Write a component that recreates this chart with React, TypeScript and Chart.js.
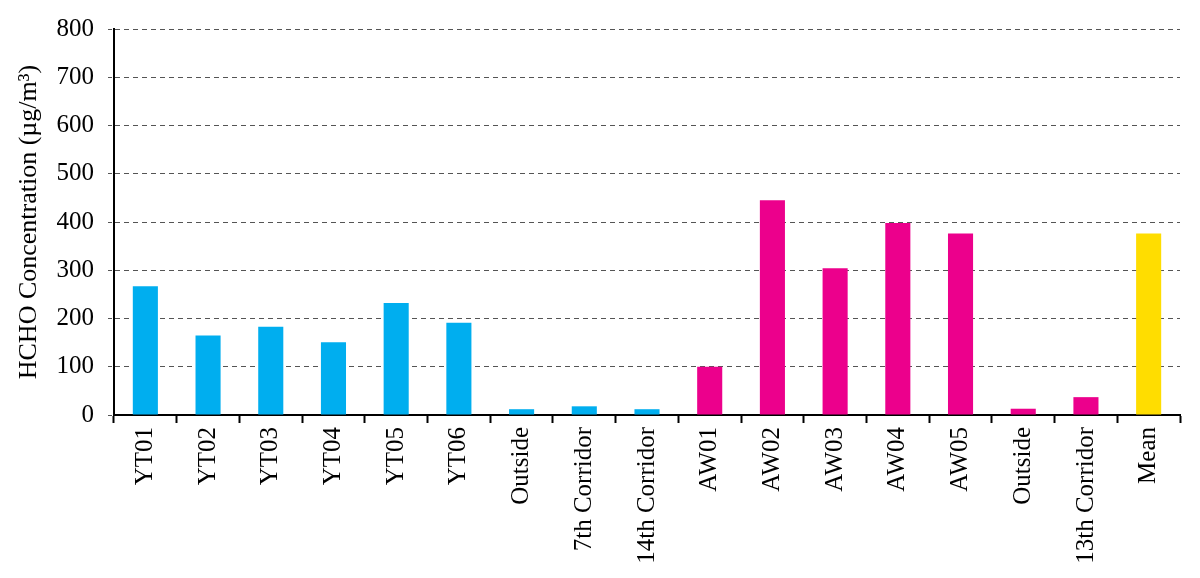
import React, { useEffect, useRef } from "react";
import { Chart, registerables } from "chart.js";

Chart.register(...registerables);

const categories = [
  "YT01", "YT02", "YT03", "YT04", "YT05", "YT06", "Outside", "7th Corridor", "14th Corridor",
  "AW01", "AW02", "AW03", "AW04", "AW05", "Outside", "13th Corridor", "Mean",
];
const values = [267, 165, 183, 151, 232, 191, 12, 18, 12, 100, 445, 304, 398, 376, 13, 37, 376];
const groups = ["YT", "YT", "YT", "YT", "YT", "YT", "YT", "YT", "YT", "AW", "AW", "AW", "AW", "AW", "AW", "AW", "Mean"];
const yTicks = [0, 100, 200, 300, 400, 500, 600, 700, 800];

const groupColors: Record<string, string> = { YT: "#00AEEF", AW: "#EC008C", Mean: "#FFDD00" };
const FONT = "'Liberation Serif', 'Times New Roman', serif";

export default function App() {
  const ref = useRef<HTMLCanvasElement | null>(null);
  useEffect(() => {
    document.body.style.margin = "0";
    const chart = new Chart(ref.current as HTMLCanvasElement, {
      type: "bar",
      data: {
        labels: categories,
        datasets: [
          {
            data: values,
            backgroundColor: groups.map((g) => groupColors[g]),
            barPercentage: 0.4,
            categoryPercentage: 1.0,
          },
        ],
      },
      options: {
        animation: false,
        responsive: false,
        devicePixelRatio: 1,
        layout: { padding: { top: 29, right: 20, left: 0, bottom: 0 } },
        plugins: { legend: { display: false }, tooltip: { enabled: false } },
        scales: {
          x: {
            offset: true,
            grid: {
              display: true,
              drawOnChartArea: false,
              drawTicks: true,
              tickLength: 8,
              tickColor: "#000",
              tickWidth: 2,
              offset: true,
            },
            border: { display: true, color: "#000", width: 2 },
            ticks: {
              autoSkip: false,
              minRotation: 90,
              maxRotation: 90,
              padding: 4,
              color: "#000",
              font: { family: FONT, size: 25 },
            },
            afterFit: (scale: any) => {
              scale.height = 163;
            },
          },
          y: {
            min: 0,
            max: 800,
            afterBuildTicks: (scale: any) => {
              scale.ticks = yTicks.map((v) => ({ value: v }));
            },
            grid: {
              color: "#555",
              lineWidth: 1,
              tickLength: 6,
              tickColor: "#555",
              tickBorderDash: [4, 3],
            },
            border: { display: true, color: "#000", width: 2, dash: [5, 4] },
            ticks: {
              padding: 14,
              color: "#000",
              font: { family: FONT, size: 25 },
            },
            title: {
              display: true,
              text: "HCHO Concentration (µg/m³)",
              color: "#000",
              font: { family: FONT, size: 26 },
              padding: { top: 14, bottom: 0 },
            },
            afterFit: (scale: any) => {
              scale.width = 114;
            },
          },
        },
      },
    });
    return () => chart.destroy();
  }, []);
  return (
    <div style={{ position: "absolute", left: 0, top: 0, width: 1200, height: 578, background: "#fff" }}>
      <canvas ref={ref} width={1200} height={578} style={{ width: 1200, height: 578 }} />
    </div>
  );
}
